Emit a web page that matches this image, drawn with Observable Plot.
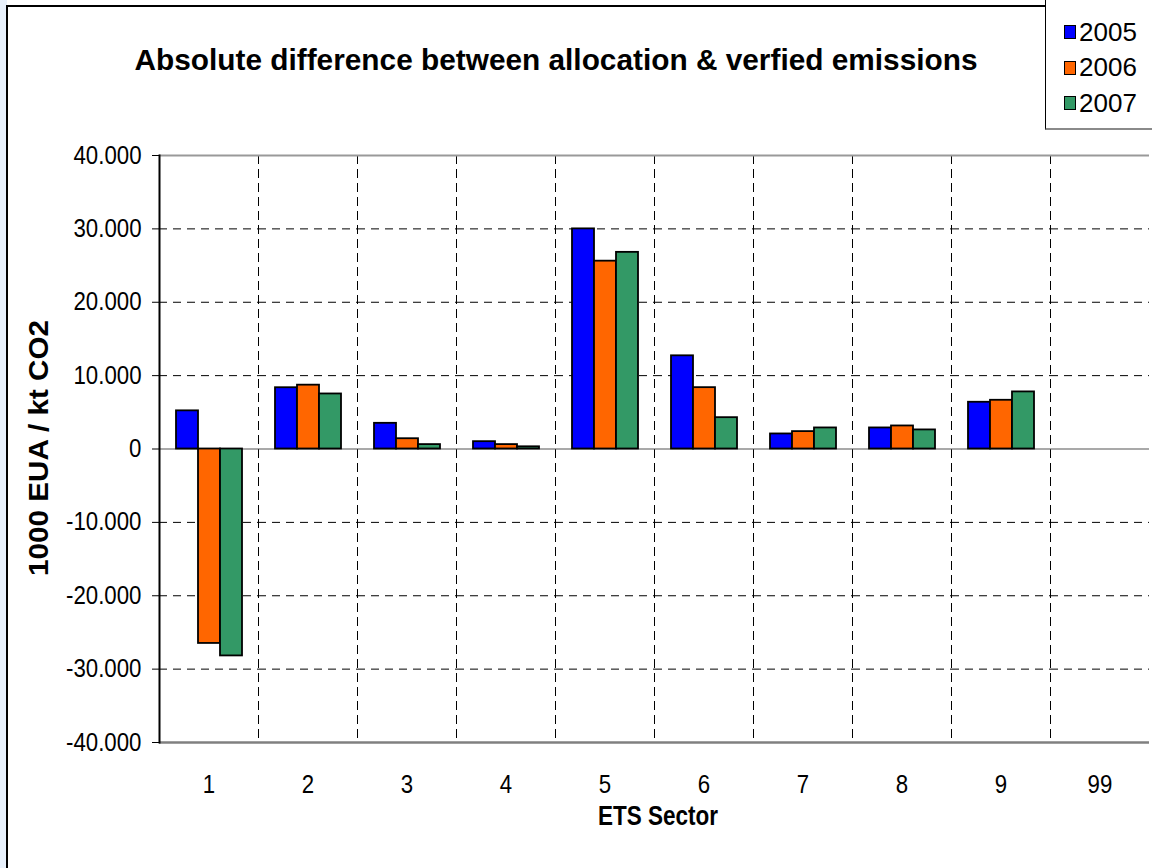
<!DOCTYPE html>
<html>
<head>
<meta charset="utf-8">
<script src="https://cdn.jsdelivr.net/npm/d3@7"></script>
<script src="https://cdn.jsdelivr.net/npm/@observablehq/plot@0.6"></script>
<style>
  html, body { margin: 0; padding: 0; overflow: hidden; background: #fff; }
  #wrap { position: relative; width: 1152px; height: 868px; overflow: hidden; background: #fff;
          font-family: "Liberation Sans", Arial, sans-serif; }
  #stripe { position: absolute; left: 0; top: 0; width: 7px; height: 868px; background: #e8f1fc; }
  #panel { position: absolute; left: 6px; top: 5px; width: 1160px; height: 880px; background: #fff;
           border-left: 2px solid #000; border-top: 2px solid #000; }
  #chart { position: absolute; left: 0; top: 0; }
  #legend { position: absolute; left: 1045px; top: -4px; width: 130px; height: 131px; background: #fff;
            border-left: 1px solid #000; border-top: 1px solid #000; border-bottom: 2px solid #8a8a8a; }
  .item { position: absolute; left: 18px; height: 30px; display: flex; align-items: center;
          font-size: 26px; color: #000; }
  .sw { width: 10px; height: 12px; border: 1.5px solid #000; margin-right: 3px; }
</style>
</head>
<body>
<div id="wrap">
  <div id="stripe"></div>
  <div id="panel"></div>
  <div id="chart"></div>
  <div id="legend"></div>
</div>
<script>
// ---- data ----
const sectors = ["1", "2", "3", "4", "5", "6", "7", "8", "9", "99"];
const years = ["2005", "2006", "2007"];
const v2005 = [5200, 8350, 3500, 1000, 30000, 12700, 2050, 2870, 6370, null];
const v2006 = [-26500, 8700, 1400, 600, 25600, 8360, 2370, 3140, 6640, null];
const v2007 = [-28200, 7500, 600, 300, 26800, 4270, 2870, 2600, 7780, null];
const colors = ["#0000FF", "#FF6600", "#339966"];
const yTicks = [-40000, -30000, -20000, -10000, 0, 10000, 20000, 30000, 40000];
const titleText = "Absolute difference between allocation & verfied emissions";
const yLabel = "1000 EUA / kt CO2";
const xLabel = "ETS Sector";

const series = [v2005, v2006, v2007];
const data = [];
sectors.forEach((s, i) => years.forEach((y, j) => data.push({sector: s, year: y, value: series[j][i]})));

const loc = d3.formatLocale({decimal: ",", thousands: ".", grouping: [3], currency: ["", ""], minus: "-"});
const fmt = loc.format(",d");

const plot = Plot.plot({
  width: 1152,
  height: 868,
  marginLeft: 156,
  marginRight: 0,
  marginTop: 155,
  marginBottom: 126,
  style: {fontFamily: "Liberation Sans, Arial, sans-serif", fontSize: "25px", color: "#000", background: "transparent"},
  fx: {domain: sectors, padding: 0, label: null, tickSize: 0, tickPadding: 33, axis: "bottom"},
  x: {domain: years, paddingInner: 0, paddingOuter: 0.706, axis: null},
  y: {domain: [-40000, 40000], ticks: yTicks, tickFormat: fmt, tickSize: 7, tickPadding: 11, label: null},
  color: {domain: years, range: colors},
  marks: [
    Plot.gridY(yTicks.filter(t => Math.abs(t) !== 40000 && t !== 0), {stroke: "#000", strokeOpacity: 1, strokeWidth: 1, strokeDasharray: "8,6"}),
    Plot.frame({anchor: "left", stroke: "#000", strokeWidth: 1, strokeDasharray: "8,6"}),
    Plot.ruleY([40000], {stroke: "#999", strokeWidth: 2}),
    Plot.ruleY([-40000], {stroke: "#808080", strokeWidth: 2.5}),
    Plot.ruleY(sectors, {fx: d => d, y: () => 0, stroke: "#555", strokeWidth: 1.2}),
    Plot.barY(data.filter(d => d.value != null), {fx: "sector", x: "year", y: "value", fill: "year", stroke: "#000", strokeWidth: 1.8}),
    Plot.frame({anchor: "left", fx: ["1"], stroke: "#000", strokeWidth: 2})
  ]
});
document.getElementById("chart").appendChild(plot);

const svg = d3.select(plot);
svg.selectAll("[aria-label='y-axis tick label'] text, [aria-label='fx-axis tick label'] text").each(function () {
  const L = this.getComputedTextLength();
  if (L > 0) { this.setAttribute("textLength", L * 0.89); this.setAttribute("lengthAdjust", "spacingAndGlyphs"); }
});

svg.append("text")
  .attr("x", 556).attr("y", 70)
  .attr("text-anchor", "middle")
  .attr("font-size", 29).attr("font-weight", "bold")
  .attr("textLength", 843).attr("lengthAdjust", "spacingAndGlyphs")
  .text(titleText);

svg.append("text")
  .attr("transform", "translate(48,448) rotate(-90)")
  .attr("text-anchor", "middle")
  .attr("font-size", 28).attr("font-weight", "bold")
  .attr("textLength", 256).attr("lengthAdjust", "spacingAndGlyphs")
  .text(yLabel);

svg.append("text")
  .attr("x", 658).attr("y", 825)
  .attr("text-anchor", "middle")
  .attr("font-size", 27).attr("font-weight", "bold")
  .attr("textLength", 120).attr("lengthAdjust", "spacingAndGlyphs")
  .text(xLabel);

// legend
const legend = document.getElementById("legend");
years.forEach((y, i) => {
  const it = document.createElement("div");
  it.className = "item";
  it.style.top = (20 + i * 35.5) + "px";
  const sw = document.createElement("div");
  sw.className = "sw";
  sw.style.background = colors[i];
  const t = document.createElement("span");
  t.textContent = y;
  it.appendChild(sw); it.appendChild(t);
  legend.appendChild(it);
});
</script>
</body>
</html>
